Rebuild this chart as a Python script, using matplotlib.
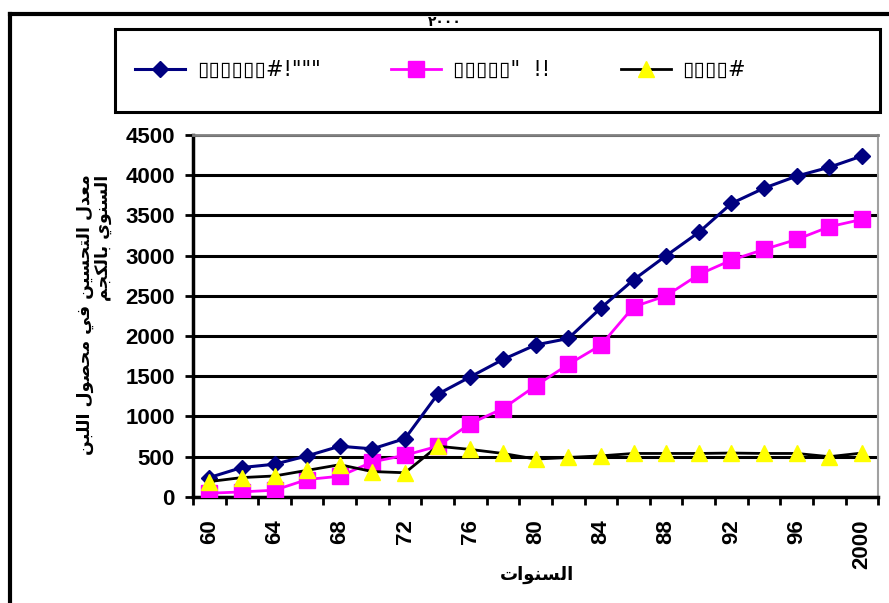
import matplotlib
matplotlib.use("Agg")
import matplotlib.pyplot as plt
from matplotlib.lines import Line2D
from matplotlib.patches import Rectangle
from matplotlib.font_manager import FontProperties

# ---------- data ----------
years = ["60", "62", "64", "66", "68", "70", "72", "74", "76", "78", "80",
         "82", "84", "86", "88", "90", "92", "94", "96", "98", "2000"]
blue_vals = [240, 365, 406, 510, 630, 597, 726, 1277, 1493, 1709, 1890,
             1970, 2350, 2700, 3000, 3290, 3650, 3840, 3990, 4100, 4240]
pink_vals = [45, 62, 83, 216, 257, 435, 518, 630, 912, 1099, 1381,
             1647, 1887, 2364, 2501, 2766, 2945, 3078, 3202, 3360, 3451]
yel_vals = [190, 240, 260, 330, 400, 315, 300, 630, 590, 540, 470,
            490, 510, 540, 540, 540, 545, 540, 540, 500, 545]
series_names = ["▯▯▯▯▯▯#!\"\"\"", "▯▯▯▯▯\"  !!", "▯▯▯▯#"]
title_txt = "٢٠٠٠"
xlabel_txt = "السنوات"
ylabel_lines = ["معدل التحسين في محصول اللبن", "السنوي بالكجم"]

# ---------- minimal arabic shaping (matplotlib has no bidi/shaping) ----------
FORMS = {  # isolated, final, initial, medial
    "ا": ("\uFE8D", "\uFE8E", None, None),
    "ب": ("\uFE8F", "\uFE90", "\uFE91", "\uFE92"),
    "ت": ("\uFE95", "\uFE96", "\uFE97", "\uFE98"),
    "ج": ("\uFE9D", "\uFE9E", "\uFE9F", "\uFEA0"),
    "ح": ("\uFEA1", "\uFEA2", "\uFEA3", "\uFEA4"),
    "د": ("\uFEA9", "\uFEAA", None, None),
    "س": ("\uFEB1", "\uFEB2", "\uFEB3", "\uFEB4"),
    "ص": ("\uFEB9", "\uFEBA", "\uFEBB", "\uFEBC"),
    "ع": ("\uFEC9", "\uFECA", "\uFECB", "\uFECC"),
    "ف": ("\uFED1", "\uFED2", "\uFED3", "\uFED4"),
    "ك": ("\uFED9", "\uFEDA", "\uFEDB", "\uFEDC"),
    "ل": ("\uFEDD", "\uFEDE", "\uFEDF", "\uFEE0"),
    "م": ("\uFEE1", "\uFEE2", "\uFEE3", "\uFEE4"),
    "ن": ("\uFEE5", "\uFEE6", "\uFEE7", "\uFEE8"),
    "و": ("\uFEED", "\uFEEE", None, None),
    "ي": ("\uFEF1", "\uFEF2", "\uFEF3", "\uFEF4"),
}


def ar(s):
    out = []
    for i, c in enumerate(s):
        if c not in FORMS:
            out.append(c)
            continue
        iso, fin, ini, med = FORMS[c]
        prev = s[i - 1] if i > 0 else ""
        nxt = s[i + 1] if i + 1 < len(s) else ""
        jp = prev in FORMS and FORMS[prev][2] is not None
        jn = ini is not None and nxt in FORMS
        out.append(med if jp and jn else fin if jp else ini if jn else iso)
    return "".join(out)[::-1]


TICKFONT = dict(family="Liberation Sans", weight="bold", size=16)
ARFONT = ["DejaVu Sans"]
W, H = 889, 603

fig = plt.figure(figsize=(W / 100, H / 100), dpi=100)
ax = fig.add_axes([0.217, 0.176, 0.771, 0.600])

x = list(range(len(years)))
h1, = ax.plot(x, blue_vals, color="#000080", lw=2.2, marker="D", ms=8, mec="#000080", mfc="#000080", zorder=5)
h2, = ax.plot(x, pink_vals, color="#FF00FF", lw=2, marker="s", ms=11, mec="#FF00FF", mfc="#FF00FF", zorder=4)
h3, = ax.plot(x, yel_vals, color="black", lw=2, marker="^", ms=12, mec="#FFFF00", mfc="#FFFF00", zorder=6)

ax.set_ylim(0, 4500)
ax.set_yticks(range(0, 4501, 500))
ax.set_xlim(-0.5, len(years) - 0.5)
ax.set_xticks(x[::2])
ax.set_xticklabels(years[::2], rotation=90, fontdict=TICKFONT)
ax.set_xticks([i - 0.5 for i in range(len(years) + 1)], minor=True)
ax.tick_params(axis="x", which="major", length=0, pad=16)
ax.tick_params(axis="x", which="minor", length=6, width=2, direction="out")
ax.tick_params(axis="y", length=6, width=2, direction="out", pad=7)
for lab in ax.get_yticklabels():
    lab.set_fontproperties(FontProperties(**TICKFONT))
ax.yaxis.grid(True, color="black", lw=2.2)
ax.set_axisbelow(True)
for side, c, w in [("left", "black", 2.5), ("bottom", "black", 2.5), ("top", "#808080", 2), ("right", "#a0a0a0", 1.5)]:
    ax.spines[side].set_color(c)
    ax.spines[side].set_linewidth(w)

# outer frame (only left and top visible in the reference)
fig.add_artist(Line2D([10 / W, 10 / W], [0, 1 - 14 / H], color="black", lw=3))
fig.add_artist(Line2D([10 / W, 1], [1 - 14 / H, 1 - 14 / H], color="black", lw=3))

fig.text(445 / W, 1 - 22 / H, title_txt, ha="center", va="center", fontsize=10,
         fontweight="bold", family=ARFONT)
fig.text(537 / W, 1 - 575 / H, ar(xlabel_txt), ha="center", va="center", fontsize=13,
         fontweight="bold", family=ARFONT)
fig.text(94 / W, 1 - 315 / H, "\n".join(ar(t) for t in ylabel_lines), rotation=90,
         ha="center", va="center", multialignment="right", fontsize=12.5, fontweight="bold",
         family=ARFONT, linespacing=1.0)

# legend box drawn separately so the entries can sit at the reference positions
fig.add_artist(Rectangle((115 / W, 1 - 112 / H), 765 / W, 83 / H, transform=fig.transFigure,
                         fill=False, edgecolor="black", lw=2.2))
fig.legend([h1, h2, h3], series_names, loc="center left", ncol=3,
           bbox_to_anchor=(125 / W, 1 - 70 / H), frameon=False, borderpad=0,
           handlelength=2.4, handletextpad=0.55, columnspacing=3.4,
           prop=dict(family="DejaVu Sans", size=15))

fig.savefig("out.png", dpi=100)
